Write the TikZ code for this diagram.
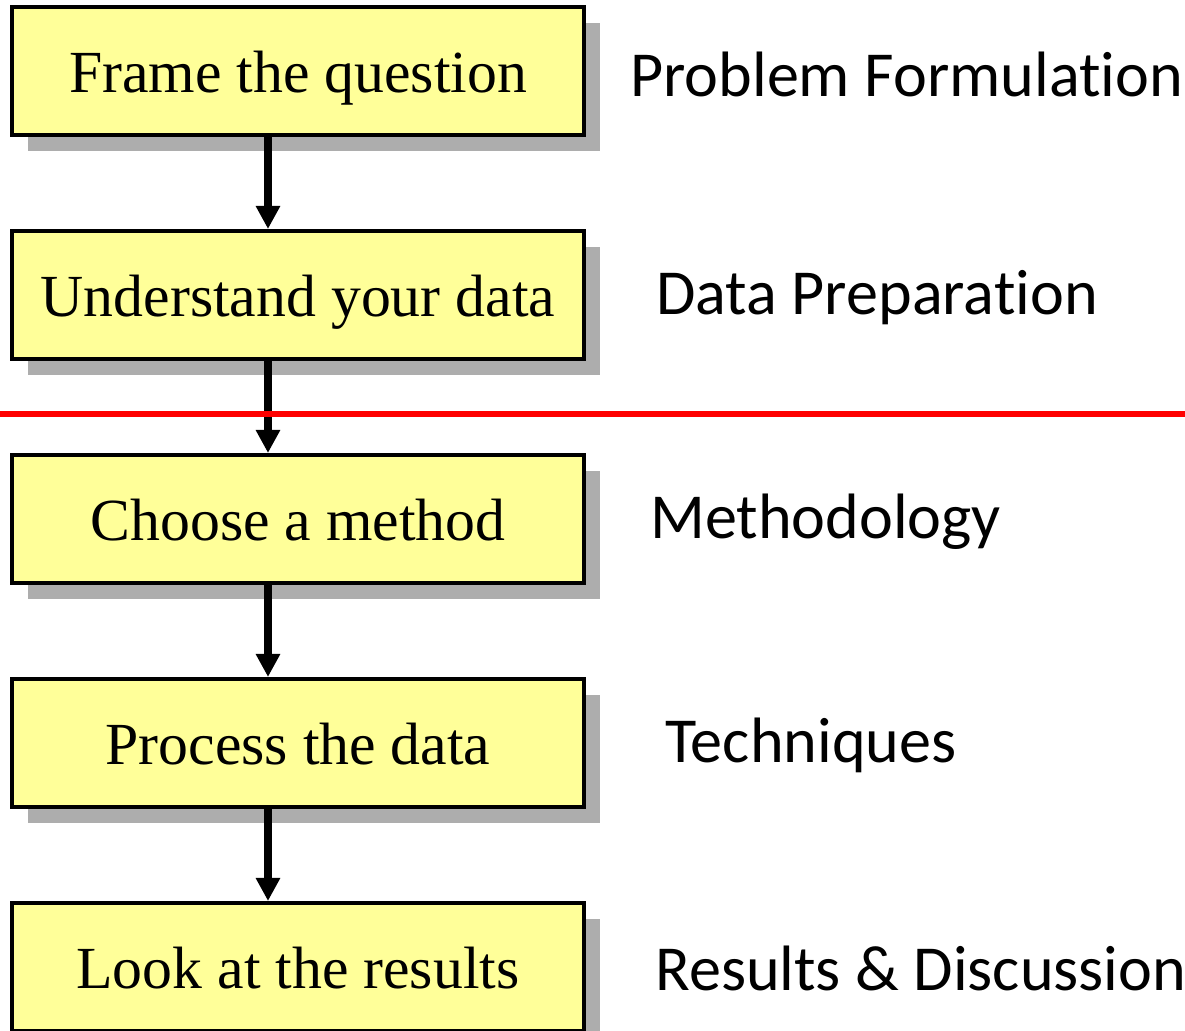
\documentclass[tikz,border=0pt]{standalone}
\usepackage{fontspec}
\newfontfamily\labelfont[Ligatures=NoCommon]{Carlito}
\newfontfamily\boxfont{Liberation Serif}
\usetikzlibrary{arrows.meta,shadows}
\definecolor{boxyellow}{HTML}{FFFF99}
\definecolor{shadowgray}{HTML}{ADADAD}
\tikzset{
  stepbox/.style={draw=black, line width=2.3pt, fill=boxyellow,
    minimum width=11.44cm, minimum height=2.56cm, inner sep=0pt,
    text height=1.0cm, text depth=0.16cm,
    font=\boxfont\fontsize{34}{40}\selectfont,
    general shadow={fill=shadowgray, shadow xshift=0.32cm, shadow yshift=-0.32cm}},
  phase/.style={anchor=west, inner sep=0pt, font=\labelfont\fontsize{36.5}{42}\selectfont},
  flow/.style={line width=4pt, -{Triangle[width=0.46cm,length=0.46cm]}}
}
\begin{document}
\begin{tikzpicture}
% Set the page size
\useasboundingbox (0,0) rectangle (23.7,-20.6);

% Draw the boxes on the left
\node[stepbox] (frame) at (5.96, -1.42) {Frame the question};
\node[stepbox] (understand) at (5.96, -5.90) {Understand your data};
\node[stepbox] (choose) at (5.96, -10.38) {Choose a method};
\node[stepbox] (process) at (5.96, -14.86) {Process the data};
\node[stepbox] (look) at (5.96, -19.34) {Look at the results};

% Phase names on the right
\node[phase] (problem) at (12.6, -1.48) {Problem Formulation};
\node[phase] (prep) at (13.12, -5.96) {Data Preparation};
\node[phase] (method) at (13.0, -10.44) {Methodology};
\node[phase] (tech) at (13.3, -14.9) {Techniques};
\node[phase] (results) at (13.1, -19.36) {Results \& Discussion};

% Arrows between the boxes (a bit left of the middle)
\draw[flow] ([xshift=-0.6cm]frame.south) -- ([xshift=-0.6cm]understand.north);
\draw[flow] ([xshift=-0.6cm]understand.south) -- ([xshift=-0.6cm]choose.north);
\draw[flow] ([xshift=-0.6cm]choose.south) -- ([xshift=-0.6cm]process.north);
\draw[flow] ([xshift=-0.6cm]process.south) -- ([xshift=-0.6cm]look.north);

% Red separator
\coordinate (sepL) at (0, -8.28);
\coordinate (sepR) at (23.7, -8.28);
\draw[red, line width=3pt] (sepL) -- (sepR);
\end{tikzpicture}
\end{document}
